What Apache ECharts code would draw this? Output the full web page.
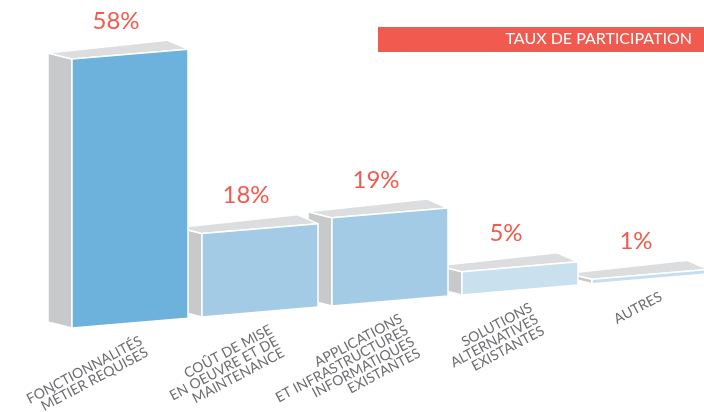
<!DOCTYPE html>
<html>
<head>
<meta charset="utf-8">
<script src="https://cdn.jsdelivr.net/npm/echarts@6/dist/echarts.min.js"></script>
<style>
  html, body { margin: 0; padding: 0; background: #ffffff; }
  #chart { width: 704px; height: 412px; }
</style>
</head>
<body>
<div id="chart"></div>
<script>
// Raisons invoquées, en % de participation
const categories = [
  'FONCTIONNALITÉS\nMÉTIER REQUISES',
  'COÛT DE MISE\nEN OEUVRE ET DE\nMAINTENANCE',
  'APPLICATIONS\nET INFRASTRUCTURES\nINFORMATIQUES\nEXISTANTES',
  'SOLUTIONS\nALTERNATIVES\nEXISTANTES',
  'AUTRES'
];
const rates = [58, 18, 19, 5, 1];
const legendTitle = 'TAUX DE PARTICIPATION';

// Styling of the pseudo-3D blocks
const frontColors = ['#6cb2dc', '#a3cbe5', '#a3cbe5', '#c9e1ee', '#c6dff0'];
const SIDE_COLOR = '#c8c9cb';
const TOP_COLOR = '#dcdddf';
const EDGE_COLOR = '#ffffff';
const RED = '#f15a4e';
const TEXT_GREY = '#6d6e71';
const HALF_W = 58;          // half width of a front face
const SLOPE = 0.085;        // floor tilt (px down per px to the left)
const DEPTH_L = [-24, -6];  // back offset of the left edge
const DEPTH_R = [-21, -9];  // back offset of the right edge
const LABEL_ANGLE = 28 * Math.PI / 180;

const chart = echarts.init(document.getElementById('chart'), null, { renderer: 'canvas' });

function renderBlock(params, api) {
  const i = params.dataIndex;
  const n = params.dataInsideLength;
  const v = api.value(1);
  const base = api.coord([i, 0]);
  const top = api.coord([i, v]);
  const refX = api.coord([0, 0])[0];
  const cx = base[0];
  const tilt = (x, y) => y - SLOPE * (x - refX);
  const xl = cx - HALF_W, xr = cx + HALF_W;
  const flb = [xl, tilt(xl, base[1])], frb = [xr, tilt(xr, base[1])];
  const flt = [xl, tilt(xl, top[1])], frt = [xr, tilt(xr, top[1])];
  const add = (p, d) => [p[0] + d[0], p[1] + d[1]];
  const z = (n - i) * 10;
  const edge = { stroke: EDGE_COLOR, lineWidth: 1.5, lineJoin: 'round' };

  return {
    type: 'group',
    children: [
      {
        type: 'polygon', z2: z,
        shape: { points: [add(flt, DEPTH_L), flt, flb, add(flb, DEPTH_L)] },
        style: Object.assign({ fill: SIDE_COLOR }, edge)
      },
      {
        type: 'polygon', z2: z + 1,
        shape: { points: [flt, frt, add(frt, DEPTH_R), add(flt, DEPTH_L)] },
        style: Object.assign({ fill: TOP_COLOR }, edge)
      },
      {
        type: 'polygon', z2: z + 2,
        shape: { points: [flt, frt, frb, flb] },
        style: Object.assign({ fill: frontColors[i] }, edge)
      },
      {
        type: 'text', z2: z + 3,
        x: cx - 14, y: tilt(cx, top[1]) - 33,
        style: {
          text: v + '%', fill: RED, fontSize: 24, fontFamily: 'Lato',
          align: 'center', verticalAlign: 'middle'
        }
      },
      {
        type: 'text', z2: z + 3,
        x: cx + 8, y: tilt(cx, base[1]) + 11,
        rotation: LABEL_ANGLE,
        style: {
          text: categories[i], fill: TEXT_GREY, fontSize: 14, fontFamily: 'Lato',
          lineHeight: 13, align: 'right', verticalAlign: 'top'
        }
      }
    ]
  };
}

chart.setOption({
  animation: false,
  backgroundColor: '#ffffff',
  grid: { left: 130, right: 54, top: 44.8, bottom: 88.9 },
  xAxis: { type: 'category', data: categories, boundaryGap: false, show: false },
  yAxis: { type: 'value', min: 0, max: 60, show: false },
  graphic: [
    {
      type: 'rect', left: 378, top: 27,
      shape: { width: 326, height: 25 },
      style: { fill: RED }
    },
    {
      type: 'text', right: 12, top: 31,
      style: { text: legendTitle, fill: '#ffffff', fontSize: 16, fontFamily: 'Lato' }
    }
  ],
  series: [{
    type: 'custom',
    renderItem: renderBlock,
    data: rates.map((r, i) => [i, r]),
    silent: true
  }]
});
</script>
</body>
</html>
